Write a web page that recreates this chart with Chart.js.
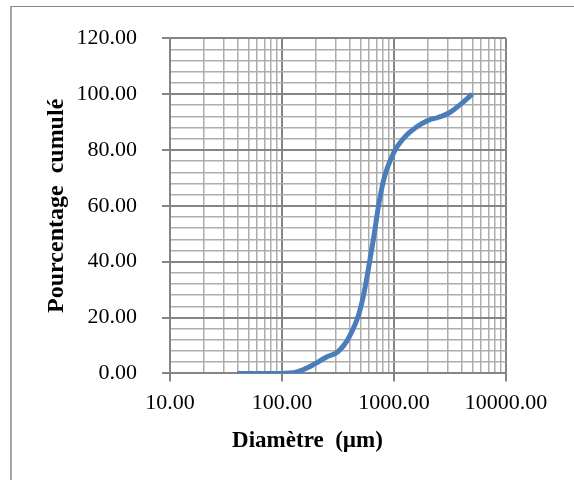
<!DOCTYPE html>
<html>
<head>
<meta charset="utf-8">
<script src="https://cdn.jsdelivr.net/npm/chart.js@4"></script>
<style>
  html, body { margin: 0; padding: 0; background: #fff; }
  #wrap { position: relative; width: 574px; height: 480px; }
  #frame { position: absolute; left: 10px; top: 6px; right: -2px; bottom: -2px;
           border-left: 2px solid #a6a6a6; border-top: 1px solid #8c8c8c; pointer-events: none; }
</style>
</head>
<body>
<div id="wrap">
  <canvas id="chart" width="574" height="480"></canvas>
  <div id="frame"></div>
</div>
<script>
// particle size distribution (sieve sizes in µm, cumulative %)
const diameters = [40, 63, 80, 100, 125, 160, 200, 250, 315, 400, 500, 630, 800, 1000, 1250, 1600, 2000, 2500, 3150, 4000, 5000];
const cumulative = [0, 0, 0, 0, 0.2, 1.6, 3.6, 5.9, 7.7, 13.2, 23, 44, 68.5, 79.2, 84.7, 88.3, 90.5, 91.7, 93.4, 96.6, 100];

const xMajor = [10, 100, 1000, 10000];
const yMajorStep = 20;

const MAJOR = '#858585';
const MINOR = '#adadad';
const serif = 'Liberation Serif';

const ctx = document.getElementById('chart').getContext('2d');

new Chart(ctx, {
  type: 'scatter',
  data: {
    datasets: [{
      data: diameters.map((d, i) => ({ x: d, y: cumulative[i] })),
      xAxisID: 'x',
      yAxisID: 'y',
      showLine: true,
      borderColor: '#4a7ebb',
      borderWidth: 5,
      pointRadius: 0,
      tension: 0.4,
      fill: false
    }]
  },
  options: {
    responsive: false,
    animation: false,
    layout: { padding: { left: 41, right: 0, top: 36, bottom: 0 } },
    plugins: {
      legend: { display: false },
      tooltip: { enabled: false },
      title: {
        display: true,
        position: 'bottom',
        text: 'Diamètre  (µm)',
        color: '#000',
        font: { family: serif, size: 23, weight: 'bold' },
        padding: { top: 0, bottom: 25 }
      }
    },
    scales: {
      x: {
        type: 'logarithmic',
        min: 10,
        max: 10000,
        afterBuildTicks: (scale) => {
          const ticks = [];
          for (let i = 0; i < xMajor.length - 1; i++) {
            for (let k = 1; k < 10; k++) ticks.push({ value: xMajor[i] * k });
          }
          ticks.push({ value: xMajor[xMajor.length - 1] });
          scale.ticks = ticks;
        },
        afterFit: (scale) => { scale.height = 54; },
        ticks: {
          autoSkip: false,
          maxRotation: 0,
          padding: 9,
          color: '#000',
          font: { family: serif, size: 22 },
          callback: (v) => xMajor.includes(v) ? v.toFixed(2) : ''
        },
        grid: {
          color: (c) => xMajor.includes(c.tick.value) ? MAJOR : MINOR,
          lineWidth: (c) => xMajor.includes(c.tick.value) ? 2 : 1.5,
          tickColor: (c) => xMajor.includes(c.tick.value) ? MAJOR : 'rgba(0,0,0,0)',
          tickLength: 8
        },
        border: { color: MAJOR, width: 2 }
      },
      spacer: {
        type: 'linear',
        axis: 'y',
        position: 'right',
        display: true,
        ticks: { display: false },
        grid: { display: false },
        border: { display: false },
        afterFit: (scale) => { scale.width = 68; }
      },
      y: {
        min: 0,
        max: 120,
        afterFit: (scale) => { scale.width = 129; },
        ticks: {
          stepSize: 4,
          autoSkip: false,
          padding: 25,
          color: '#000',
          font: { family: serif, size: 22 },
          callback: (v) => v % yMajorStep === 0 ? v.toFixed(2) : ''
        },
        grid: {
          color: (c) => c.tick.value % yMajorStep === 0 ? MAJOR : MINOR,
          lineWidth: (c) => c.tick.value % yMajorStep === 0 ? 2 : 1.5,
          tickColor: (c) => c.tick.value % yMajorStep === 0 ? MAJOR : 'rgba(0,0,0,0)',
          tickLength: 8
        },
        border: { color: MAJOR, width: 2 },
        title: {
          display: true,
          text: 'Pourcentage  cumulé',
          color: '#000',
          font: { family: serif, size: 24, weight: 'bold' },
          padding: { top: 1 }
        }
      }
    }
  }
});
</script>
</body>
</html>
